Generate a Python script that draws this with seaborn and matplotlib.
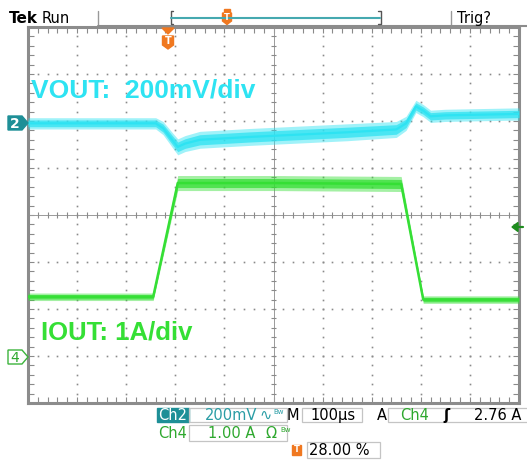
import numpy as np
import pandas as pd
import matplotlib
matplotlib.use("Agg")
import matplotlib.pyplot as plt
import seaborn as sns
from matplotlib.patches import Polygon, Rectangle

# Trace values, in divisions (x: 0..10 div, y: -4..4 div)
vout_t = [0, 2.6, 2.75, 2.95, 3.05, 3.2, 3.5, 4.5, 5.5, 6.5, 7.5, 7.7, 7.9, 8.05, 8.2, 8.5, 10]
vout_v = [1.95, 1.95, 1.85, 1.58, 1.45, 1.52, 1.60, 1.66, 1.71, 1.76, 1.82, 1.95, 2.31, 2.22, 2.10, 2.12, 2.15]
vout_noise = [0.12, 0.12, 0.14, 0.16, 0.17, 0.17, 0.18, 0.18, 0.18, 0.18, 0.17, 0.15, 0.13, 0.13, 0.13, 0.13, 0.13]

iout_t = [0, 2.55, 3.05, 5.0, 7.6, 8.05, 10]
iout_v = [-1.74, -1.74, 0.68, 0.68, 0.66, -1.80, -1.80]
iout_noise = [0.08, 0.08, 0.16, 0.16, 0.16, 0.08, 0.08]

vout_label = "VOUT:  200mV/div"
iout_label = "IOUT: 1A/div"

cyan = "#2EE3F2"
green = "#35DF35"
teal = "#1E8F97"
teal_txt = "#2A9DA5"
green_txt = "#2EA82E"
orange = "#F07820"
gridc = "#8a8a8a"

sns.set_theme(style="white")
plt.rcParams['font.family'] = ['DejaVu Sans']

W, H = 527, 462
L, R, T, B = 28, 519, 27, 403
fig = plt.figure(figsize=(W / 100, H / 100), dpi=100)
fig.patch.set_facecolor("white")

ax = fig.add_axes([L / W, 1 - B / H, (R - L) / W, (B - T) / H])
ax.set_xlim(0, 10)
ax.set_ylim(-4, 4)
ax.set_facecolor("white")

# graticule
minor_x = np.arange(0, 10.001, 0.2)
minor_y = np.arange(-4, 4.001, 0.2)
ax.set_xticks(np.arange(0, 10.01, 1))
ax.set_yticks(np.arange(-4, 4.01, 1))
ax.set_xticks(minor_x, minor=True)
ax.set_yticks(minor_y, minor=True)
ax.tick_params(which="both", direction="in", top=True, right=True, bottom=True, left=True,
               labelbottom=False, labelleft=False, color=gridc, length=4, width=0.8)
for sp in ax.spines.values():
    sp.set_color("#8c8c8c")
    sp.set_linewidth(2.2)

for gx in [1, 2, 3, 4, 6, 7, 8, 9]:
    ax.plot(np.full(len(minor_y), gx), minor_y, ls="none", marker="s", ms=1.2, mew=0, color=gridc)
for gy in [-3, -2, -1, 1, 2, 3]:
    ax.plot(minor_x, np.full(len(minor_x), gy), ls="none", marker="s", ms=1.2, mew=0, color=gridc)
ax.axhline(0, color="#9a9a9a", lw=0.7)
ax.axvline(5, color="#9a9a9a", lw=0.7)
ax.vlines(minor_x, -0.065, 0.065, color=gridc, lw=0.8)
ax.hlines(minor_y, 5 - 0.06, 5 + 0.06, color=gridc, lw=0.8)

# traces: noise envelope with soft edges, then the trace centre
vout = pd.DataFrame({"t": vout_t, "v": vout_v, "n": vout_noise})
iout = pd.DataFrame({"t": iout_t, "v": iout_v, "n": iout_noise})
for df, col in [(vout, cyan), (iout, green)]:
    ax.fill_between(df.t, df.v - df.n, df.v + df.n, color=col, alpha=0.45, lw=0, zorder=3)
    ax.fill_between(df.t, df.v - 0.6 * df.n, df.v + 0.6 * df.n, color=col, alpha=0.75, lw=0, zorder=3)
sns.lineplot(data=vout, x="t", y="v", ax=ax, color=cyan, lw=1.6, zorder=4)
sns.lineplot(data=iout, x="t", y="v", ax=ax, color=green, lw=1.8, zorder=4)
ax.set_xlabel("")
ax.set_ylabel("")

# overlay in pixel coordinates for screen decorations
ov = fig.add_axes([0, 0, 1, 1], zorder=5)
ov.set_xlim(0, W)
ov.set_ylim(H, 0)
ov.axis("off")
ov.patch.set_alpha(0)

ov.text(31, 97, vout_label, color=cyan, fontsize=19, fontweight="bold",
        family=["Liberation Sans"], va="baseline")
ov.text(41, 340, iout_label, color=green, fontsize=18.5, fontweight="bold",
        family=["Liberation Sans"], va="baseline")

# header
ov.text(9, 23, "Tek", fontsize=11, fontweight="bold", va="baseline", color="black")
ov.text(42, 23, "Run", fontsize=10.5, va="baseline", color="black")
ov.text(457, 23, "Trig?", fontsize=10.5, va="baseline", color="black")
ov.plot([98, 98], [11, 25], color="#999999", lw=1)
ov.plot([451, 451], [11, 25], color="#999999", lw=1)
ov.plot([98, W], [25.5, 25.5], color="#8c8c8c", lw=1.5)
ov.plot([173, 170.5, 170.5, 173], [11, 11, 24, 24], color="#555555", lw=1)
ov.plot([378, 380.5, 380.5, 378], [11, 11, 24, 24], color="#555555", lw=1)
ov.plot([171, 380], [17.5, 17.5], color="#45A9B0", lw=1.5)
ov.add_patch(Polygon([(224, 9), (230, 9), (230, 13), (224, 13)], color=orange))
ov.add_patch(Polygon([(222.5, 13), (231.5, 13), (231.5, 21), (227, 24.5), (222.5, 21)], color=orange))
ov.text(227, 18, "T", color="white", fontsize=6, fontweight="bold", ha="center", va="center")

# trigger position marker
ov.add_patch(Polygon([(162, 28), (174, 28), (168, 34)], color=orange))
ov.add_patch(Polygon([(162.5, 36), (173.5, 36), (173.5, 45), (168, 49), (162.5, 45)], color=orange))
ov.text(168, 41.5, "T", color="white", fontsize=7, fontweight="bold", ha="center", va="center")

# channel ground markers
ov.add_patch(Polygon([(8, 116), (22, 116), (28, 123), (22, 130), (8, 130)], facecolor=teal, edgecolor=teal))
ov.text(15, 123.5, "2", color="white", fontsize=10, fontweight="bold", ha="center", va="center")
ov.add_patch(Polygon([(8, 350), (22, 350), (28, 357), (22, 364), (8, 364)], facecolor="white",
                     edgecolor="#3CB43C", lw=1))
ov.text(15, 357.5, "4", color="#2EA82E", fontsize=10, ha="center", va="center")

# trigger level arrow
ov.add_patch(Polygon([(512, 227), (518, 222.5), (518, 231.5)], color="#1E8C1E"))
ov.plot([517, 523], [227, 227], color="#1E8C1E", lw=1.6)

# status readout
fs = 10.5
box = dict(fill=False, edgecolor="#c4c4c4", lw=0.9)
ov.add_patch(Rectangle((157, 408), 32, 14, color=teal))
ov.text(173, 415.5, "Ch2", color="white", fontsize=fs, ha="center", va="center")
ov.add_patch(Rectangle((189, 408), 98, 14, **box))
ov.text(205, 415.5, "200mV", color=teal_txt, fontsize=fs, va="center")
ov.text(259, 415.5, "∿", color=teal_txt, fontsize=fs, va="center")
ov.text(273, 412, "Bw", color=teal_txt, fontsize=5, va="center")
ov.text(287, 415.5, "M", color="black", fontsize=fs, va="center")
ov.add_patch(Rectangle((302, 408), 60, 14, **box))
ov.text(310, 415.5, "100µs", color="black", fontsize=fs, va="center")
ov.text(377, 415.5, "A", color="black", fontsize=fs, va="center")
ov.add_patch(Rectangle((388, 408), 140, 14, **box))
ov.text(400, 415.5, "Ch4", color=green_txt, fontsize=fs, va="center")
ov.text(443, 415.5, "ʃ", color="black", fontsize=fs, fontweight="bold", va="center")
ov.text(521, 415.5, "2.76 A", color="black", fontsize=fs, ha="right", va="center")

ov.text(158, 433.5, "Ch4", color=green_txt, fontsize=fs, va="center")
ov.add_patch(Rectangle((189, 425), 98, 16, **box))
ov.text(208, 433.5, "1.00 A", color=green_txt, fontsize=fs, va="center")
ov.text(266, 433.5, "Ω", color=green_txt, fontsize=fs, va="center")
ov.text(280, 430, "Bw", color=green_txt, fontsize=5, va="center")

ov.add_patch(Rectangle((292, 445), 9, 10, color=orange))
ov.text(296.5, 450, "T", color="white", fontsize=6, fontweight="bold", ha="center", va="center")
ov.add_patch(Rectangle((307, 442), 73, 16, **box))
ov.text(309, 450.5, "28.00 %", color="black", fontsize=fs, va="center")

fig.savefig("out.png", dpi=100)
